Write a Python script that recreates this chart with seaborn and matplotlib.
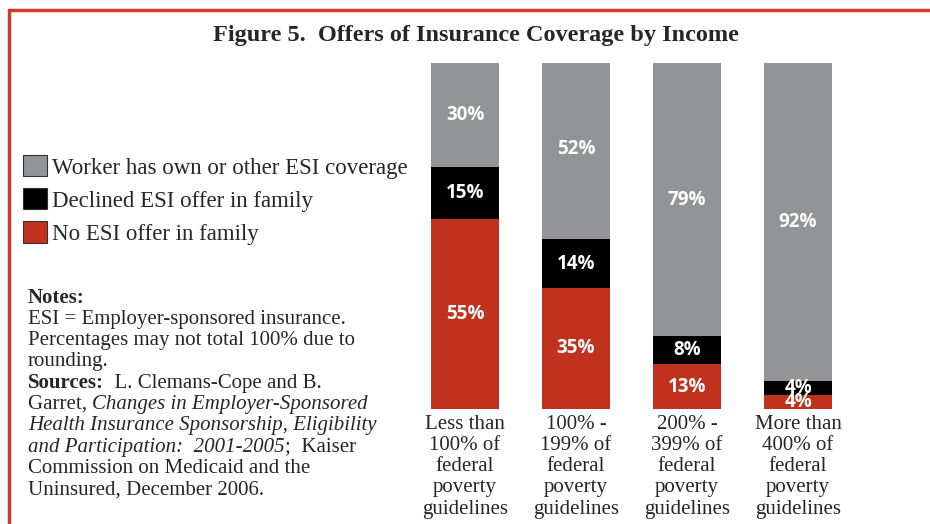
import numpy as np
import pandas as pd
import matplotlib.pyplot as plt
import seaborn as sns
from matplotlib.patches import Patch
from matplotlib.lines import Line2D

# data
groups = ["Less than\n100% of\nfederal\npoverty\nguidelines",
          "100% -\n199% of\nfederal\npoverty\nguidelines",
          "200% -\n399% of\nfederal\npoverty\nguidelines",
          "More than\n400% of\nfederal\npoverty\nguidelines"]
no_offer = [55, 35, 13, 4]
declined = [15, 14, 8, 4]
own_cov = [30, 52, 79, 92]

series_names = ["Worker has own or other ESI coverage",
                "Declined ESI offer in family",
                "No ESI offer in family"]

GRAY = "#939497"
BLACK = "#000000"
RED = "#c0311e"
BORDER = "#d23a2a"

df = pd.DataFrame({"group": groups, "no_offer": no_offer,
                   "declined": declined, "own": own_cov})
df["low"] = df["no_offer"]
df["mid"] = df["no_offer"] + df["declined"]
df["top"] = df["mid"] + df["own"]

sns.set_style("white")
plt.rcParams["font.family"] = ["Liberation Serif", "DejaVu Serif"]

fig = plt.figure(figsize=(9.3, 5.24), dpi=100)
ax = fig.add_axes([409.5 / 930, (524 - 409) / 524, 444 / 930, 346 / 524])

# stacked bars: draw totals first, then cover with lower parts
sns.barplot(data=df, x="group", y="top", color=GRAY, width=0.62,
            saturation=1, ax=ax, linewidth=0)
sns.barplot(data=df, x="group", y="mid", color=BLACK, width=0.62,
            saturation=1, ax=ax, linewidth=0)
sns.barplot(data=df, x="group", y="low", color=RED, width=0.62,
            saturation=1, ax=ax, linewidth=0)

ax.set_xlim(-0.5, 3.5)
ax.set_ylim(0, 100)
ax.set_xlabel("")
ax.set_ylabel("")
ax.set_yticks([])
sns.despine(ax=ax, left=True, bottom=True)
ax.tick_params(axis="x", length=0, pad=4)
for lab in ax.get_xticklabels():
    lab.set_fontsize(15)
    lab.set_linespacing(1.16)

# segment labels
for i in range(len(groups)):
    for base, val in [(0, no_offer[i]), (df["low"][i], declined[i]),
                      (df["mid"][i], own_cov[i])]:
        ax.text(i, base + val / 2, f"{val}%", ha="center", va="center",
                color="white", fontsize=13.5, fontweight="bold",
                family=["Open Sans", "DejaVu Sans"], clip_on=True)

# title
fig.text(476 / 930, 1 - 35 / 524, "Figure 5.  Offers of Insurance Coverage by Income",
         ha="center", va="center", fontsize=17.5, fontweight="bold")

# legend
handles = [Patch(facecolor=c, edgecolor="#333333", linewidth=0.8)
           for c in [GRAY, BLACK, RED]]
fig.legend(handles, series_names, loc="upper left",
           bbox_to_anchor=(14 / 930, 1 - 146 / 524), frameon=False,
           fontsize=16.5, handlelength=1.05, handleheight=1.05,
           handletextpad=0.2, labelspacing=0.42, borderaxespad=0)

# notes block with mixed styles
notes = [
    [("Notes:", "bold", "normal")],
    [("ESI = Employer-sponsored insurance.", "normal", "normal")],
    [("Percentages may not total 100% due to", "normal", "normal")],
    [("rounding.", "normal", "normal")],
    [("Sources:", "bold", "normal"), ("  L. Clemans-Cope and B.", "normal", "normal")],
    [("Garret, ", "normal", "normal"), ("Changes in Employer-Sponsored", "normal", "italic")],
    [("Health Insurance Sponsorship, Eligibility", "normal", "italic")],
    [("and Participation:  2001-2005", "normal", "italic"), (";  Kaiser", "normal", "normal")],
    [("Commission on Medicaid and the", "normal", "normal")],
    [("Uninsured, December 2006.", "normal", "normal")],
]
renderer = fig.canvas.get_renderer()
y0 = 298
for k, line in enumerate(notes):
    xpix = 28
    ypix = y0 + k * 21.3
    for txt, w, st in line:
        t = fig.text(xpix / 930, 1 - ypix / 524, txt, ha="left", va="center",
                     fontsize=15, fontweight=w, fontstyle=st)
        bb = t.get_window_extent(renderer=renderer)
        xpix += bb.width

# red frame on top and left
fig.add_artist(Line2D([9 / 930, 1], [1 - 10 / 524, 1 - 10 / 524],
                      color=BORDER, linewidth=2.5, transform=fig.transFigure))
fig.add_artist(Line2D([9 / 930, 9 / 930], [0, 1 - 10 / 524],
                      color=BORDER, linewidth=2.5, transform=fig.transFigure))

fig.savefig("out.png", dpi=100)
